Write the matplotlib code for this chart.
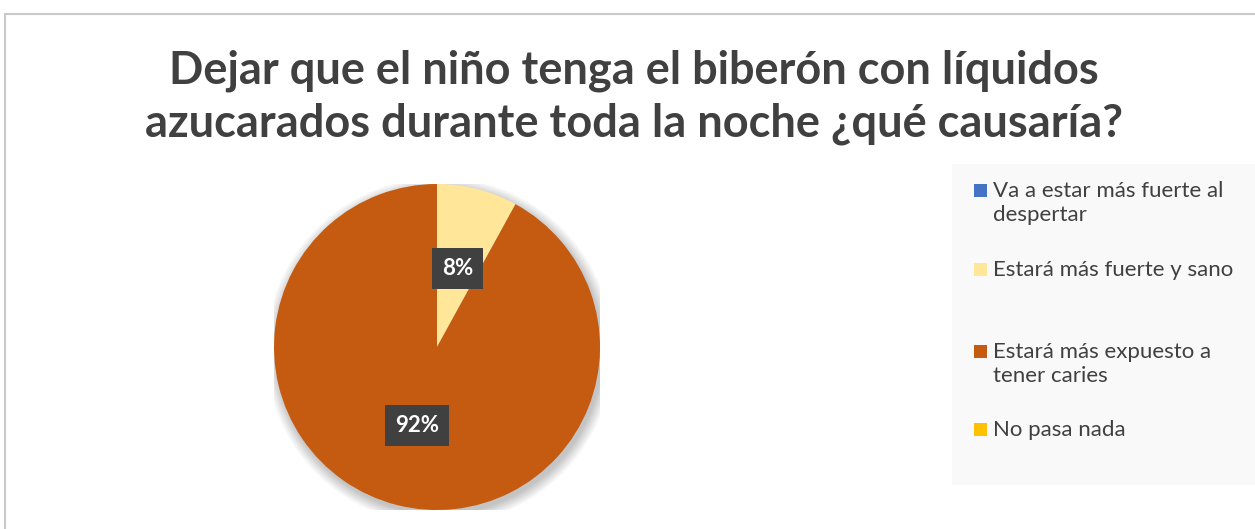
import matplotlib
matplotlib.use("Agg")
import matplotlib.pyplot as plt
from matplotlib.patches import Rectangle, Circle

# data
categories = ["Va a estar más fuerte al\ndespertar",
              "Estará más fuerte y sano",
              "Estará más expuesto a\ntener caries",
              "No pasa nada"]
values = [0, 8, 92, 0]
colors = ["#4472C4", "#FFE699", "#C55A11", "#FFC000"]
title = "Dejar que el niño tenga el biberón con líquidos\nazucarados durante toda la noche ¿qué causaría?"

W, H = 1255, 529
fig = plt.figure(figsize=(W / 100, H / 100), dpi=100)
fig.patch.set_facecolor("white")

# chart border (right and bottom run off the image)
fig.patches.append(Rectangle((5 / W, -0.2), 1.2, 0.2 + (H - 14) / H, transform=fig.transFigure,
                             fill=False, edgecolor="#C9C9C9", lw=1.5))

fig.text(634 / W, 1 - 97 / H, title, ha="center", va="center", fontsize=32.5,
         fontweight="bold", color="#404040", family="Lato", linespacing=1.32)

# pie
cx, cy, r = 437, 347, 163
ax = fig.add_axes([(cx - r) / W, (H - cy - r) / H, 2 * r / W, 2 * r / H])
ax.axis("off")

# soft shadow
for i in range(12):
    ax.add_patch(Circle((0.015, -0.025), 1.0 + 0.006 * i, color="black",
                        alpha=0.018, lw=0, zorder=0))

wedges, texts, autotexts = ax.pie(
    values, colors=colors, startangle=90, counterclock=False, radius=1,
    autopct=lambda p: f"{p:.0f}%" if p > 0 else "", pctdistance=0.5,
    wedgeprops=dict(linewidth=0, zorder=1),
    textprops=dict(color="white", fontsize=16, fontweight="bold", family="Lato"))
for t in autotexts:
    t.set_bbox(dict(boxstyle="square,pad=0.45", facecolor="#404040", edgecolor="none"))
ax.set_aspect("auto")
ax.set_xlim(-1, 1)
ax.set_ylim(-1, 1)

# legend panel
fig.patches.append(Rectangle((952 / W, (H - 485) / H), 0.3, (485 - 164) / H,
                             transform=fig.transFigure, facecolor="#F9F9F9",
                             edgecolor="none", zorder=0))
ys = [203, 270, 364, 430]
for lab, col, y in zip(categories, colors, ys):
    nlines = lab.count("\n") + 1
    ty = y - 12.5 * (nlines - 1)
    fig.patches.append(Rectangle((974 / W, (H - ty - 6) / H), 13 / W, 13 / H,
                                 transform=fig.transFigure, facecolor=col,
                                 edgecolor="none"))
    fig.text(993 / W, 1 - y / H, lab, ha="left", va="center", fontsize=16,
             color="#404040", family="Lato", linespacing=1.3)

fig.savefig("out.png", dpi=100)
